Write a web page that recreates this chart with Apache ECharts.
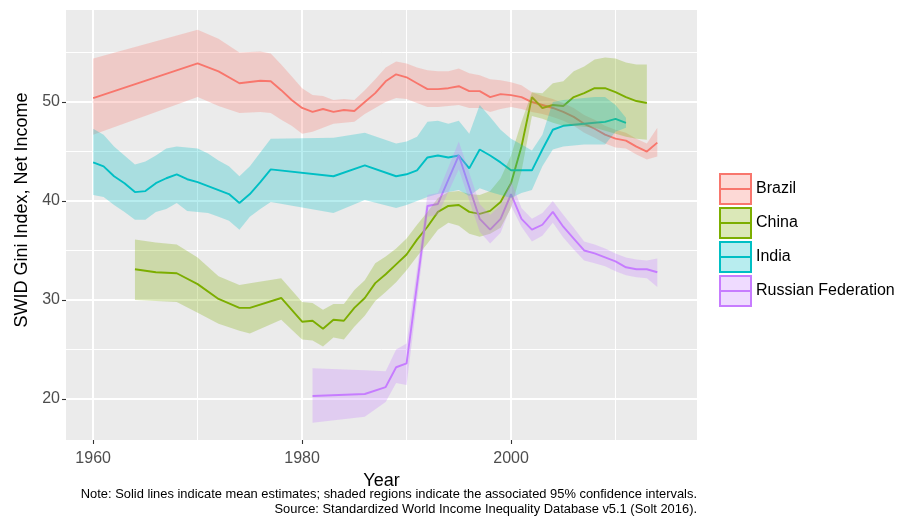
<!DOCTYPE html>
<html>
<head>
<meta charset="utf-8">
<script src="https://cdn.jsdelivr.net/npm/echarts@6/dist/echarts.min.js"></script>
<style>
html,body{margin:0;padding:0;background:#fff;}
#chart{width:899px;height:519px;}
</style>
</head>
<body>
<div id="chart"></div>
<script>
// ---------------- data ----------------
const brazilYears = [1960,1970,1972,1974,1976,1977,1978,1979,1980,1981,1982,1983,1984,1985,1986,1987,1988,1989,1990,1991,1992,1993,1994,1995,1996,1997,1998,1999,2000,2001,2002,2003,2004,2005,2006,2007,2008,2009,2010,2011,2012,2013,2014];
const brazilMean  = [50.4,53.9,53.1,51.9,52.15,52.1,51.2,50.2,49.4,49.0,49.3,49.0,49.2,49.1,50.0,50.9,52.1,52.8,52.5,51.9,51.3,51.3,51.4,51.6,51.1,51.1,50.5,50.8,50.7,50.5,50.0,49.7,49.4,49.0,48.5,47.8,47.3,46.7,46.3,46.1,45.5,45.0,45.9];
const brazilUpper = [54.4,57.3,56.4,55.0,55.1,54.9,53.8,52.6,51.4,50.7,50.6,50.2,50.3,50.2,51.2,52.3,53.5,54.1,53.9,53.5,53.2,53.1,53.1,53.4,52.9,52.7,52.3,52.2,52.0,51.7,51.0,50.6,50.3,49.9,49.4,48.7,48.2,47.6,47.2,46.9,46.3,45.8,47.4];
const brazilLower = [46.7,50.5,49.6,48.9,49.0,48.9,48.2,47.6,46.8,47.0,47.4,47.8,47.9,48.0,48.8,49.4,50.0,50.4,50.3,49.9,49.5,49.5,49.6,49.7,49.4,49.4,49.0,49.3,49.5,49.3,49.0,48.8,48.5,48.1,47.6,46.9,46.4,45.8,45.4,45.3,44.7,44.2,44.5];

const chinaYears = [1964,1966,1968,1970,1972,1974,1975,1978,1980,1981,1982,1983,1984,1985,1986,1987,1988,1989,1990,1991,1992,1993,1994,1995,1996,1997,1998,1999,2000,2001,2002,2003,2004,2005,2006,2007,2008,2009,2010,2011,2012,2013];
const chinaMean  = [33.1,32.8,32.7,31.6,30.1,29.2,29.2,30.2,27.8,27.9,27.1,28.0,27.9,29.2,30.2,31.7,32.6,33.6,34.6,36.1,37.4,38.9,39.5,39.6,38.9,38.7,39.0,39.9,41.8,45.5,50.5,49.4,49.7,49.6,50.5,50.9,51.4,51.4,51.0,50.5,50.1,49.9];
const chinaUpper = [36.1,35.8,35.6,34.3,32.4,31.5,31.7,32.2,29.8,29.7,29.0,29.6,29.6,31.0,32.0,33.7,34.4,35.2,36.2,37.6,38.9,40.3,40.9,41.0,40.7,40.6,41.0,42.3,44.6,48.0,51.0,50.9,51.9,52.1,53.1,53.6,54.3,54.5,54.4,54.0,53.8,53.8];
const chinaLower = [30.0,29.9,29.8,28.7,27.6,26.9,26.6,28.0,26.0,25.9,25.3,26.2,26.0,27.3,28.4,29.9,30.8,31.8,33.0,34.4,35.7,37.1,37.8,37.5,36.7,36.4,36.7,37.3,39.3,43.0,48.6,48.3,47.9,47.6,47.6,47.5,47.4,47.1,46.8,46.5,46.3,46.2];

const indiaYears = [1960,1961,1962,1963,1964,1965,1966,1967,1968,1969,1970,1971,1972,1973,1974,1975,1976,1977,1983,1986,1989,1990,1991,1992,1993,1994,1995,1996,1997,1998,1999,2000,2001,2002,2003,2004,2005,2006,2007,2008,2009,2010,2011];
const indiaMean  = [43.9,43.5,42.5,41.8,40.9,41.0,41.8,42.3,42.7,42.2,41.9,41.5,41.1,40.7,39.8,40.7,41.9,43.2,42.5,43.6,42.5,42.7,43.1,44.4,44.6,44.4,44.6,43.3,45.2,44.6,43.9,43.1,43.1,43.1,45.2,47.2,47.6,47.7,47.8,47.9,48.0,48.3,47.9];
const indiaUpper = [47.3,46.7,45.5,44.6,43.7,44.0,44.6,45.3,45.5,45.4,45.3,44.8,44.1,43.5,42.5,43.5,44.9,46.3,46.4,46.9,45.8,46.0,46.5,48.0,48.1,47.8,48.1,46.8,49.7,48.5,47.2,46.3,45.7,45.1,46.7,50.0,50.2,50.3,50.4,50.5,50.5,49.7,48.4];
const indiaLower = [40.6,40.4,39.6,38.9,38.1,38.1,38.9,39.2,39.8,39.0,38.9,38.8,38.4,38.0,37.1,38.4,39.2,39.9,38.8,40.1,39.3,39.6,40.0,40.4,40.7,40.9,41.1,40.5,41.3,40.9,40.6,40.3,40.8,41.1,43.5,45.2,45.5,45.6,45.7,45.7,45.7,47.0,47.4];

const russiaYears = [1981,1986,1988,1989,1990,1992,1993,1995,1997,1998,1999,2000,2001,2002,2003,2004,2005,2006,2007,2008,2009,2010,2011,2012,2013,2014];
const russiaMean  = [20.3,20.5,21.2,23.2,23.6,39.5,39.7,44.6,38.2,37.1,38.2,40.7,38.2,37.1,37.6,38.9,37.4,36.2,35.0,34.7,34.3,33.9,33.3,33.1,33.1,32.8];
const russiaUpper = [23.1,22.9,22.8,25.0,25.6,40.6,40.8,46.0,39.7,38.6,39.6,42.0,39.3,38.2,38.8,40.0,38.6,37.3,35.9,35.6,35.2,34.7,34.3,34.1,34.0,34.2];
const russiaLower = [17.6,18.2,19.7,21.6,21.4,38.4,38.6,43.2,36.9,35.7,36.8,39.5,37.4,35.9,36.5,37.8,36.3,35.1,34.0,33.7,33.4,32.9,32.5,32.3,32.2,31.3];

const countryNames = ['Brazil','China','India','Russian Federation'];
const xTickLabels = [1960,1980,2000];
const xMinorGrid = [1970,1990,2010];
const yTickLabels = [20,30,40,50];
const yMinorGrid = [25,35,45,55];

// ---------------- build ----------------
const FONT = "'Liberation Sans', Arial, sans-serif";
const colors = ['#F8766D','#7CAE00','#00BFC4','#C77CFF'];
const fills = ['rgba(248,118,109,0.28)','rgba(124,174,0,0.28)','rgba(0,191,196,0.28)','rgba(199,124,255,0.28)'];
const groups = [
  [brazilYears, brazilMean, brazilLower, brazilUpper],
  [chinaYears, chinaMean, chinaLower, chinaUpper],
  [indiaYears, indiaMean, indiaLower, indiaUpper],
  [russiaYears, russiaMean, russiaLower, russiaUpper]
];
const pairs = (xs, ys) => xs.map((x, i) => [x, ys[i]]);
const triples = (xs, lo, hi) => xs.map((x, i) => [x, lo[i], hi[i]]);

function makeBandRenderer(fill) {
  return function (params, api) {
    if (params.dataIndexInside !== 0) return null;
    const n = params.dataInsideLength;
    const top = [], bot = [];
    for (let i = 0; i < n; i++) {
      const x = api.value(0, i);
      top.push(api.coord([x, api.value(2, i)]));
      bot.push(api.coord([x, api.value(1, i)]));
    }
    return {
      type: 'polygon',
      shape: {points: top.concat(bot.reverse())},
      style: {fill: fill, stroke: null}
    };
  };
}

const series = [];
// gridlines (drawn under everything)
series.push({
  type: 'line', name: '_grid', data: [], silent: true,
  markLine: {
    silent: true, z: 1, symbol: ['none','none'], animation: false,
    label: {show: false}, emphasis: {disabled: true},
    data: [].concat(
      xMinorGrid.map(v => ({xAxis: v, lineStyle: {color: '#fff', width: 1, type: 'solid'}})),
      yMinorGrid.map(v => ({yAxis: v, lineStyle: {color: '#fff', width: 1, type: 'solid'}})),
      xTickLabels.map(v => ({xAxis: v, lineStyle: {color: '#fff', width: 2, type: 'solid'}})),
      yTickLabels.map(v => ({yAxis: v, lineStyle: {color: '#fff', width: 2, type: 'solid'}}))
    )
  }
});
// mean lines
groups.forEach((g, k) => {
  series.push({
    type: 'line', name: countryNames[k], data: pairs(g[0], g[1]),
    symbol: 'none', showSymbol: false, z: 2, silent: true,
    lineStyle: {color: colors[k], width: 1.9},
    itemStyle: {color: colors[k]}
  });
});
// ribbons (95% CI)
groups.forEach((g, k) => {
  series.push({
    type: 'custom', name: countryNames[k] + ' CI', z: 3, silent: true, clip: true,
    data: triples(g[0], g[2], g[3]),
    encode: {x: 0, y: [1, 2]},
    renderItem: makeBandRenderer(fills[k])
  });
});

const option = {
  animation: false,
  backgroundColor: '#ffffff',
  textStyle: {fontFamily: FONT},
  grid: {left: 66, right: 202, top: 10, bottom: 79, show: true, backgroundColor: '#EBEBEB', borderWidth: 0, containLabel: false, outerBoundsMode: 'none'},
  xAxis: {
    type: 'value', min: 1957.4, max: 2017.8,
    name: 'Year', nameLocation: 'middle', nameGap: 25,
    nameTextStyle: {fontSize: 18, color: '#000', fontFamily: FONT},
    axisLine: {show: false},
    axisTick: {show: true, length: 4, customValues: xTickLabels, lineStyle: {color: '#333', width: 1.1}},
    axisLabel: {customValues: xTickLabels, formatter: v => String(v), fontSize: 16, color: '#4D4D4D', margin: 11, fontFamily: FONT},
    splitLine: {show: false}, minorSplitLine: {show: false}
  },
  yAxis: {
    type: 'value', min: 15.85, max: 59.3,
    name: 'SWID Gini Index, Net Income', nameLocation: 'middle', nameGap: 32,
    nameTextStyle: {fontSize: 18, color: '#000', fontFamily: FONT, padding: [0, 0, 0, 30]},
    axisLine: {show: false},
    axisTick: {show: true, length: 4, customValues: yTickLabels, lineStyle: {color: '#333', width: 1.1}},
    axisLabel: {customValues: yTickLabels, formatter: v => String(v), fontSize: 16, color: '#4D4D4D', margin: 6, fontFamily: FONT},
    splitLine: {show: false}, minorSplitLine: {show: false}
  },
  legend: {
    orient: 'vertical', left: 719, top: 173, padding: 0,
    itemWidth: 31, itemHeight: 30, itemGap: 2, selectedMode: false,
    symbolKeepAspect: false,
    textStyle: {fontSize: 16, color: '#000', fontFamily: FONT},
    data: countryNames.map((n, k) => ({
      name: n,
      icon: 'path://M0 0H32V30H0ZM0 15H32',
      itemStyle: {color: fills[k], borderColor: colors[k], borderWidth: 2}
    }))
  },
  graphic: [
    {type: 'text', silent: true, style: {text: 'Note: Solid lines indicate mean estimates; shaded regions indicate the associated 95% confidence intervals.', x: 697, y: 494, align: 'right', verticalAlign: 'middle', font: '12.9px ' + FONT, fill: '#000'}},
    {type: 'text', silent: true, style: {text: 'Source: Standardized World Income Inequality Database v5.1 (Solt 2016).', x: 697, y: 509, align: 'right', verticalAlign: 'middle', font: '12.9px ' + FONT, fill: '#000'}}
  ],
  series: series
};

const chart = echarts.init(document.getElementById('chart'), null, {renderer: 'canvas'});
chart.setOption(option);
</script>
</body>
</html>
